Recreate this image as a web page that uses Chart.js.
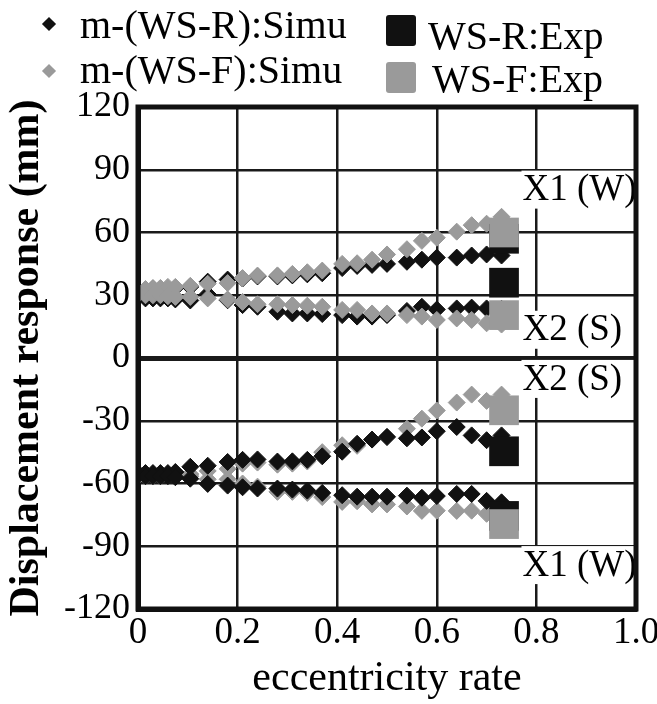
<!DOCTYPE html>
<html>
<head>
<meta charset="utf-8">
<script src="https://cdn.jsdelivr.net/npm/chart.js@4.4.0/dist/chart.umd.min.js"></script>
<style>
  html, body { margin: 0; padding: 0; background: #fff; }
  #wrap { position: relative; width: 657px; height: 704px; }
  canvas { position: absolute; left: 0; top: 0; }
  .leg { position: absolute; font-family: 'Liberation Serif', 'Times New Roman', serif; font-size: 40px; line-height: 40px; color: #000; white-space: nowrap; }
  .dia { position: absolute; width: 10px; height: 10px; transform: rotate(45deg); }
  .sq { position: absolute; width: 30px; height: 31px; border-radius: 3px; }
</style>
</head>
<body>
<div id="wrap">
  <canvas id="chart" width="657" height="704"></canvas>
  <div class="dia" style="left:44px; top:19px; background:#111"></div>
  <div class="leg" style="left:80px; top:5px">m-(WS-R):Simu</div>
  <div class="dia" style="left:44px; top:66px; background:#9a9a9a"></div>
  <div class="leg" style="left:80px; top:50px">m-(WS-F):Simu</div>
  <div class="sq" style="left:386px; top:15px; background:#111"></div>
  <div class="leg" style="left:428px; top:16px">WS-R:Exp</div>
  <div class="sq" style="left:386px; top:62px; background:#9a9a9a"></div>
  <div class="leg" style="left:432px; top:59px">WS-F:Exp</div>
</div>
<script>
// eccentricity rate of the simulation points
const rates = [0, 0.015, 0.03, 0.045, 0.06, 0.075, 0.105, 0.14, 0.18, 0.21, 0.24, 0.28, 0.31,
               0.34, 0.37, 0.41, 0.44, 0.47, 0.50, 0.54, 0.57, 0.60, 0.64, 0.67, 0.70, 0.73];

// m-(WS-R):Simu
const rUpperX1 = [30.5, 32.5, 33, 33, 33, 33.5, 34, 36.5, 37.5, 38, 39, 39, 39.5,
                  40, 40.5, 43, 44, 44.5, 45, 46, 47, 48, 48, 49, 49.5, 49];
const rUpperX2 = [30, 28.5, 28.5, 28.5, 28.5, 28, 27.5, 30.5, 27.6, 25.3, 24.5, 22.1, 21.3,
                  21.3, 21, 20.5, 19.8, 19.8, 20.5, 22.5, 24.5, 23.2, 23.7, 24.1, 23.7, 23.5];
const rLowerX2 = [-55, -55, -55, -55, -55, -54.5, -52, -51.5, -49.7, -48.7, -48.5, -49.5, -49.4,
                  -48.7, -47, -44.8, -41, -39, -37.7, -38.4, -38, -35, -33, -37, -39.3, -37];
const rLowerX1 = [-56, -56.5, -56.5, -56.5, -56.5, -57, -57.7, -60.2, -61, -61.8, -62.4, -62.4, -62.9,
                  -63.4, -64.5, -65.6, -66.3, -66.3, -66.3, -65.8, -66.8, -66, -65, -65, -68.3, -69];

// m-(WS-F):Simu
const fUpperX1 = [31, 33, 33.5, 33.5, 34, 34, 34.5, 35.5, 35.8, 38.2, 39.4, 39.5, 40.2,
                  41, 41.8, 45, 45.3, 47, 49.5, 52, 56, 57.5, 60.4, 63.5, 64.2, 67.5];
const fUpperX2 = [30.5, 30, 30, 30, 29.5, 29.2, 29.2, 28.5, 28, 26.8, 25.7, 25.7, 25.3,
                  25, 24.5, 23, 23, 21.3, 21.3, 20.5, 19.8, 18.2, 18.9, 18.2, 16.6, 16];
const fLowerX2 = [-55.5, -56, -56, -56, -56, -55, -55.5, -54, -53, -50.5, -50, -51, -50.5,
                  -49.5, -45, -41.7, -42, -39, -38, -33.8, -29, -25.1, -21.3, -17.5, -20.5, -17.5];
const fLowerX1 = [-56.5, -56.5, -56.5, -56.5, -56, -56, -56.5, -58, -58, -60, -61.5, -64, -64,
                  -64.5, -66.5, -68.8, -68.5, -70, -70, -71, -73.1, -73, -73.1, -73, -74.5, -75];

// experiments (X1 up, X2 up, X2 low, X1 low)
const expRate = 0.735;
const rExp = [57, 36, -44.6, -75.5];
const fExp = [60, 20.5, -25, -79.4];

const xTickLabels = ['0', '0.2', '0.4', '0.6', '0.8', '1.0'];
const yTicks = [-120, -90, -60, -30, 0, 30, 60, 90, 120];

const sideLabels = ['X1 (W)', 'X2 (S)', 'X2 (S)', 'X1 (W)'];
const sideLabelY = [80.5, 13.5, -10, -99];

const BLACK = '#111111';
const GRAY = '#9a9a9a';
const SERIF = "'Liberation Serif', 'Times New Roman', serif";

function pts(xs, ...series) {
    const out = [];
    series.forEach(s => s.forEach((v, i) => out.push({ x: xs[i], y: v })));
    return out;
}

function diamonds(label, color, data, order) {
    return {
        label: label, data: data, order: order,
        pointStyle: 'rectRot', pointRadius: 8.5, pointHoverRadius: 8.5,
        backgroundColor: color, borderColor: color, borderWidth: 1
    };
}

function squares(label, color, values, order) {
    return {
        label: label, order: order,
        data: values.map(v => ({ x: expRate, y: v })),
        pointStyle: 'rect', pointRadius: 21, pointHoverRadius: 21,
        backgroundColor: color, borderColor: color, borderWidth: 0
    };
}

// white-backed X1/X2 labels and the frame
const annotate = {
    id: 'annotate',
    afterDatasetsDraw(chart) {
        const { ctx, chartArea, scales } = chart;
        ctx.save();
        ctx.font = '37px ' + SERIF;
        ctx.textBaseline = 'middle';
        ctx.textAlign = 'left';
        const x0 = scales.x.getPixelForValue(0.77);
        sideLabels.forEach((t, i) => {
            const y = scales.y.getPixelForValue(sideLabelY[i]);
            ctx.fillStyle = '#fff';
            ctx.fillRect(x0, y - 19, chartArea.right - x0, 38);
            ctx.fillStyle = '#000';
            ctx.fillText(t, x0 + 1, y + 1);
        });
        ctx.restore();
    },
    afterDraw(chart) {
        const { ctx, chartArea } = chart;
        ctx.save();
        ctx.strokeStyle = BLACK;
        ctx.lineWidth = 5;
        ctx.strokeRect(chartArea.left, chartArea.top, chartArea.right - chartArea.left, chartArea.bottom - chartArea.top);
        ctx.restore();
    }
};

new Chart(document.getElementById('chart').getContext('2d'), {
    type: 'scatter',
    data: {
        datasets: [
            squares('WS-F:Exp', GRAY, fExp, 0),
            squares('WS-R:Exp', BLACK, rExp, 1),
            diamonds('m-(WS-R):Simu', BLACK, pts(rates, rLowerX2, rLowerX1), 2),
            diamonds('m-(WS-F):Simu', GRAY, pts(rates, fUpperX1, fUpperX2), 2),
            diamonds('m-(WS-F):Simu', GRAY, pts(rates, fLowerX2, fLowerX1), 3),
            diamonds('m-(WS-R):Simu', BLACK, pts(rates, rUpperX1, rUpperX2), 3)
        ]
    },
    options: {
        responsive: false,
        animation: false,
        events: [],
        layout: { padding: { top: 107, right: 14, left: 0, bottom: 0 } },
        plugins: { legend: { display: false }, tooltip: { enabled: false } },
        scales: {
            x: {
                type: 'linear', min: 0, max: 1,
                afterBuildTicks: s => { s.ticks = xTickLabels.map(t => ({ value: parseFloat(t) })); },
                afterFit: s => { s.height = 95; s.paddingLeft = 0; s.paddingRight = 0; },
                ticks: {
                    color: '#000', padding: 2, maxRotation: 0, autoSkip: false,
                    font: { family: SERIF, size: 37 },
                    callback: (v, i) => xTickLabels[i]
                },
                grid: { color: '#1a1a1a', lineWidth: 2.5, drawTicks: false },
                border: { color: BLACK, width: 5 },
                title: {
                    display: true, text: 'eccentricity rate', color: '#000',
                    font: { family: SERIF, size: 42 }, padding: { top: 0, bottom: 0 }
                }
            },
            y: {
                type: 'linear', min: -120, max: 120,
                afterBuildTicks: s => { s.ticks = yTicks.map(v => ({ value: v })); },
                afterFit: s => { s.width = 138; s.paddingTop = 0; s.paddingBottom = 0; },
                ticks: {
                    color: '#000', padding: 8, autoSkip: false,
                    font: { family: SERIF, size: 36 }
                },
                grid: {
                    color: '#1a1a1a', drawTicks: false,
                    lineWidth: c => (c.tick && c.tick.value === 0 ? 5 : 2.5)
                },
                border: { color: BLACK, width: 5 },
                title: {
                    display: true, text: 'Displacement response (mm)', color: '#000',
                    font: { family: SERIF, size: 42, weight: 'bold' }, padding: { top: 2, bottom: 0 }
                }
            }
        }
    },
    plugins: [annotate]
});
</script>
</body>
</html>
